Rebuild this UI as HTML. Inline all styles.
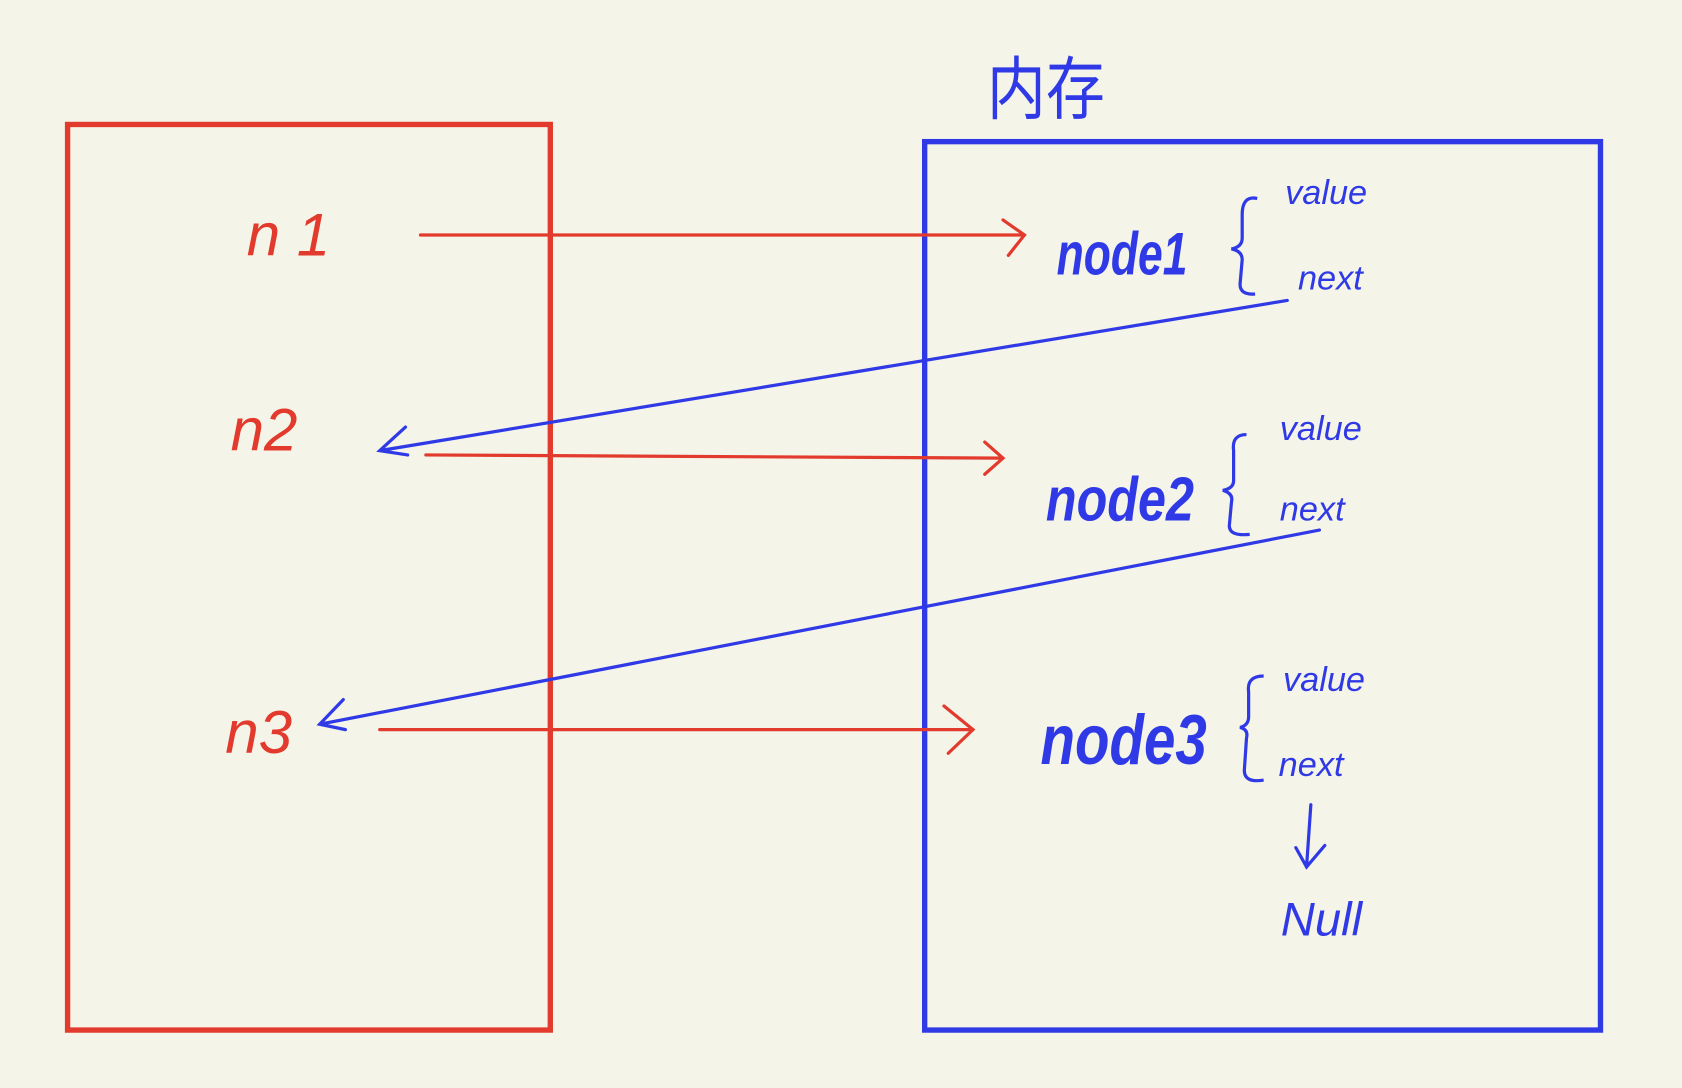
<!DOCTYPE html>
<html>
<head>
<meta charset="utf-8">
<style>
html,body{margin:0;padding:0;background:#f5f4e9;}
svg{display:block;}
text{font-family:"Liberation Sans","Noto Sans CJK SC",sans-serif;font-style:italic;}
</style>
</head>
<body>
<svg width="1682" height="1088" viewBox="0 0 1568 1014" preserveAspectRatio="none">
  <rect x="0" y="0" width="1568" height="1014" fill="#f5f4e9"/>
  <rect x="63" y="116" width="450" height="844" fill="none" stroke="#e23a2c" stroke-width="5"/>
  <rect x="862" y="132" width="630" height="828" fill="none" stroke="#2f3ae6" stroke-width="5"/>
  <text x="920" y="106" font-size="64" fill="#2f3ae6" style="font-style:normal" textLength="110" lengthAdjust="spacingAndGlyphs">内存</text>

  <g fill="#e23a2c" font-size="56">
    <text x="230" y="238">n 1</text>
    <text x="215" y="420">n2</text>
    <text x="210" y="702">n3</text>
  </g>

  <g stroke="#e23a2c" stroke-width="3" fill="none" stroke-linecap="round">
    <path d="M392 219 L955 219 M935 205 L955 219 L940 238"/>
    <path d="M397 424 L935 427 M918 412 L935 427 L918 442"/>
    <path d="M354 680 L907 680 M880 658 L907 680 L884 702"/>
  </g>

  <g stroke="#2f3ae6" stroke-width="3" fill="none" stroke-linecap="round">
    <path d="M1200 280 L354 420 M378 398 L354 420 L380 424"/>
    <path d="M1230 494 L298 675 M320 652 L298 675 L322 680"/>
    <path d="M1222 750 L1218 808 M1208 790 L1218 808 L1235 788"/>
  </g>

  <g fill="#2f3ae6" font-weight="bold">
    <text x="985" y="256" font-size="56" textLength="122" lengthAdjust="spacingAndGlyphs">node1</text>
    <text x="975" y="485" font-size="58" textLength="138" lengthAdjust="spacingAndGlyphs">node2</text>
    <text x="970" y="712" font-size="66" textLength="155" lengthAdjust="spacingAndGlyphs">node3</text>
  </g>

  <g stroke="#2f3ae6" stroke-width="3" fill="none">
    <path d="M1172 185 Q1158 182 1158 200 L1158 222 Q1158 230 1148 232 Q1158 234 1158 242 L1156 265 Q1156 275 1170 274"/>
    <path d="M1162 405 Q1148 405 1150 420 L1150 448 Q1150 455 1140 457 Q1150 460 1148 468 L1146 490 Q1146 500 1165 498"/>
    <path d="M1178 630 Q1162 630 1164 645 L1164 668 Q1164 676 1156 678 Q1164 680 1162 688 L1160 718 Q1160 730 1178 727"/>
  </g>

  <g fill="#2f3ae6" font-size="32">
    <text x="1198" y="190">value</text>
    <text x="1210" y="270">next</text>
    <text x="1193" y="410">value</text>
    <text x="1193" y="485">next</text>
    <text x="1196" y="644">value</text>
    <text x="1192" y="723">next</text>
    <text x="1194" y="872" font-size="44">Null</text>
  </g>
</svg>
</body>
</html>
